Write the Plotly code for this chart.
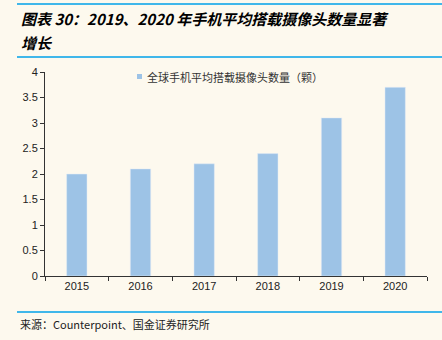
import plotly.graph_objects as go

years = ["2015", "2016", "2017", "2018", "2019", "2020"]
cameras = [2.0, 2.1, 2.2, 2.4, 3.1, 3.7]
series_name = "全球手机平均搭载摄像头数量（颗）"
title_line1 = "图表 30：2019、2020 年手机平均搭载摄像头数量显著"
title_line2 = "增长"
source_text = "来源：Counterpoint、国金证券研究所"

W, H = 442, 340
L, R, T, B = 45, 15, 72, 64
pw, ph = W - L - R, H - T - B

def px(x):
    return (x - L) / pw

def py(y):
    return (H - B - y) / ph

bg = "#FDF9EE"
blue = "#00A0E9"
bar_color = "#9DC3E6"

fig = go.Figure()
fig.add_trace(go.Bar(x=years, y=cameras, name=series_name, marker_color=bar_color,
                     width=0.32, showlegend=False))

fig.update_layout(
    width=W, height=H, margin=dict(l=L, r=R, t=T, b=B),
    paper_bgcolor=bg, plot_bgcolor=bg,
    font=dict(family="Liberation Sans, Arial", size=11, color="#222"),
    showlegend=False,
    xaxis=dict(showline=True, linecolor="#333", linewidth=1, ticks="outside", ticklen=4,
               tickcolor="#333", tickson="boundaries", showgrid=False, zeroline=False,
               tickfont=dict(size=11)),
    yaxis=dict(range=[0, 4], dtick=0.5, showline=True, linecolor="#333", linewidth=1,
               ticks="outside", ticklen=4, tickcolor="#333", showgrid=False, zeroline=False,
               tickfont=dict(size=11)),
    bargap=0.68,
)

shapes = []
for yy in (4, 57, 312):
    shapes.append(dict(type="line", xref="paper", yref="paper", x0=px(17), x1=px(442),
                       y0=py(yy), y1=py(yy), line=dict(color=blue, width=1.5)))
# legend swatch
shapes.append(dict(type="rect", xref="paper", yref="paper", x0=px(137), x1=px(142),
                   y0=py(79), y1=py(74), fillcolor=bar_color, line=dict(width=0)))
fig.update_layout(shapes=shapes)

fig.add_annotation(x=px(145), y=py(76.5), xref="paper", yref="paper", xanchor="left", yanchor="middle",
                   text=series_name, showarrow=False,
                   font=dict(family="Noto Sans CJK SC", size=11, color="#333"))
fig.add_annotation(x=px(19), y=py(18), xref="paper", yref="paper", xanchor="left", yanchor="middle",
                   text="<b><i>" + title_line1 + "</i></b>", showarrow=False,
                   font=dict(family="Noto Sans CJK SC", size=15, color="#000"))
fig.add_annotation(x=px(19), y=py(42), xref="paper", yref="paper", xanchor="left", yanchor="middle",
                   text="<b><i>" + title_line2 + "</i></b>", showarrow=False,
                   font=dict(family="Noto Sans CJK SC", size=15, color="#000"))
fig.add_annotation(x=px(18), y=py(324), xref="paper", yref="paper", xanchor="left", yanchor="middle",
                   text=source_text, showarrow=False,
                   font=dict(family="Noto Sans CJK SC", size=11, color="#222"))

fig.write_html("out.html")
